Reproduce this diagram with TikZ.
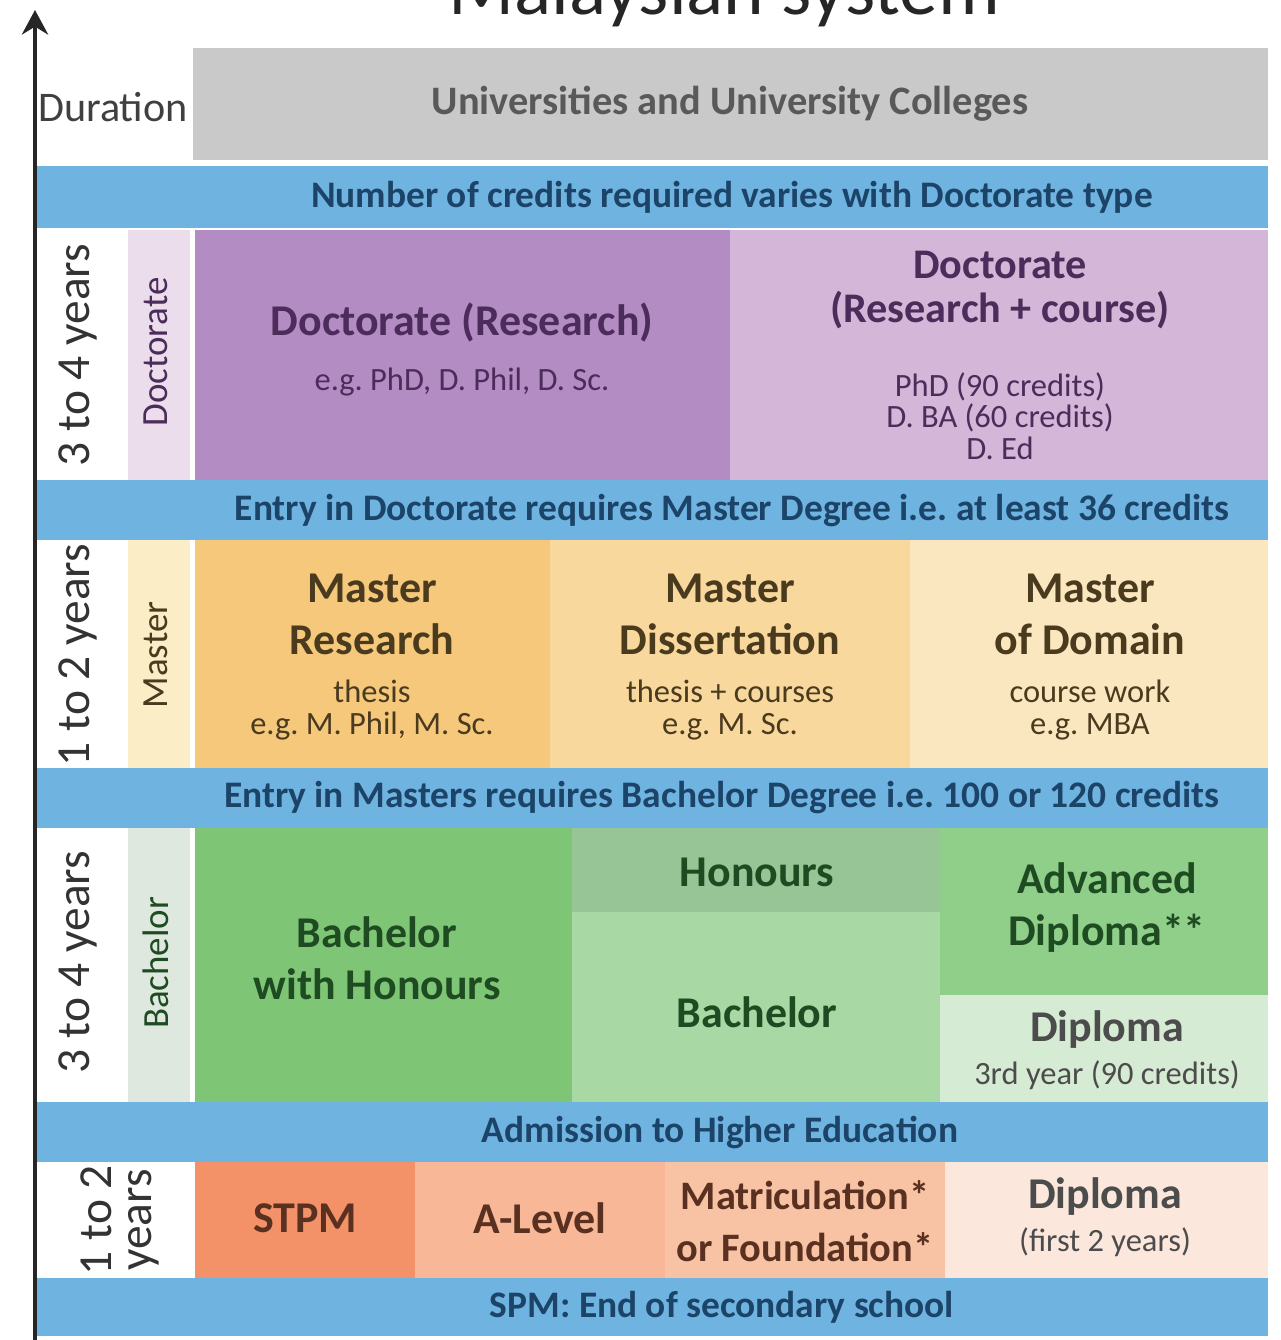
\documentclass[tikz,border=0pt]{standalone}
\usepackage{fontspec}
\setmainfont{Carlito}
\usetikzlibrary{arrows.meta}
\definecolor{bandblue}{HTML}{6FB3E0}
\definecolor{bandtext}{HTML}{1C4468}
\definecolor{univgray}{HTML}{C9C9C9}
\definecolor{docdark}{HTML}{B48CC4}
\definecolor{doclight}{HTML}{D4B6D8}
\definecolor{doclab}{HTML}{EBDDEC}
\definecolor{doctext}{HTML}{4B2C5A}
\definecolor{masdark}{HTML}{F5C87C}
\definecolor{masmid}{HTML}{F8D89C}
\definecolor{maslight}{HTML}{FBE7BF}
\definecolor{maslab}{HTML}{FBEDC6}
\definecolor{mastext}{HTML}{4A3A1E}
\definecolor{bacdark}{HTML}{7EC676}
\definecolor{bachon}{HTML}{98C595}
\definecolor{bacmid}{HTML}{A8D8A3}
\definecolor{bacadv}{HTML}{8FCF8A}
\definecolor{bacdip}{HTML}{D6EBD3}
\definecolor{baclab}{HTML}{DFE8DE}
\definecolor{bactext}{HTML}{1F4B22}
\definecolor{prestpm}{HTML}{F39169}
\definecolor{prealev}{HTML}{F8B898}
\definecolor{premat}{HTML}{F8C3A5}
\definecolor{predip}{HTML}{FCE7DD}
\definecolor{pretext}{HTML}{5A3020}

\begin{document}
\frenchspacing
\begin{tikzpicture}[x=0.02cm,y=-0.02cm,
  band/.style={font=\bfseries\fontsize{21.3}{22}\selectfont,text=bandtext},
  title/.style={font=\bfseries\fontsize{25}{29.6}\selectfont,align=center},
  note/.style={font=\fontsize{18.5}{18.5}\selectfont,align=center},
  years/.style={rotate=90,font=\fontsize{27}{22.8}\selectfont,text=black!80,align=center},
  level/.style={rotate=90,font=\fontsize{21}{22}\selectfont}]
\useasboundingbox (0,0) rectangle (1281,1340);
\clip (0,0) rectangle (1281,1340);

% heading and axis
\node[font=\fontsize{44}{44}\selectfont,text=black!85,anchor=base] (heading) at (724,14) {Malaysian system};
\coordinate (axisfoot) at (35,1340);
\coordinate (axistop) at (35,10);
\draw[line width=1.8pt,black!85,-{Stealth[length=14pt,width=15pt]}] (axisfoot) -- (axistop);
\node[font=\fontsize{24}{24}\selectfont,text=black!75] (duration) at (113,107) {Duration};
\fill[univgray] (193,48) rectangle (1268,160);
\node[font=\bfseries\fontsize{23}{24}\selectfont,text=black!65] (univ) at (730,104) {Universities and University Colleges};

% blue bands
\fill[bandblue] (37,166) rectangle (1268,228);
\fill[bandblue] (37,480) rectangle (1268,540);
\fill[bandblue] (37,768) rectangle (1268,828);
\fill[bandblue] (37,1102) rectangle (1268,1162);
\fill[bandblue] (37,1278) rectangle (1268,1336);
\node[band] (credits) at (732,197) {Number of credits required varies with Doctorate type};
\node[band] (entrydoc) at (732,511) {Entry in Doctorate requires Master Degree i.e. at least 36 credits};
\node[band] (entrymas) at (722,798) {Entry in Masters requires Bachelor Degree i.e. 100 or 120 credits};
\node[band] (admission) at (720,1132) {Admission to Higher Education};
\node[band] (spm) at (722,1307) {SPM: End of secondary school};

% doctorate
\fill[doclab] (128,230) rectangle (190,480);
\fill[docdark] (195,230) rectangle (730,480);
\fill[doclight] (730,230) rectangle (1268,480);
\node[years] (docyears) at (78,355) {3 to 4 years};
\node[level,text=doctext] (doclevel) at (156,352) {Doctorate};
\node[title,text=doctext] (docres) at (462,323) {Doctorate (Research)};
\node[note,text=doctext] (docresex) at (462,382) {e.g. PhD, D. Phil, D. Sc.};
\node[title,font=\bfseries\fontsize{24}{24.5}\selectfont,text=doctext] (doccourse) at (1000,290) {Doctorate\\(Research + course)};
\node[note,text=doctext,font=\fontsize{18.5}{18}\selectfont] (doccourseex) at (1000,416) {PhD (90 credits)\\D. BA (60 credits)\\D. Ed};

% master
\fill[maslab] (128,540) rectangle (190,768);
\fill[masdark] (195,540) rectangle (550,768);
\fill[masmid] (550,540) rectangle (910,768);
\fill[maslight] (910,540) rectangle (1268,768);
\node[years] (masyears) at (78,655) {1 to 2 years};
\node[level,text=mastext] (maslevel) at (156,655) {Master};
\node[title,text=mastext] (masres) at (372,614) {Master\\Research};
\node[note,text=mastext] (masresex) at (372,710) {thesis\\e.g. M. Phil, M. Sc.};
\node[title,text=mastext] (masdiss) at (730,614) {Master\\Dissertation};
\node[note,text=mastext] (masdissex) at (730,710) {thesis + courses\\e.g. M. Sc.};
\node[title,text=mastext] (masdom) at (1090,614) {Master\\of Domain};
\node[note,text=mastext] (masdomex) at (1090,710) {course work\\e.g. MBA};

% bachelor
\fill[baclab] (128,828) rectangle (190,1102);
\fill[bacdark] (195,828) rectangle (572,1102);
\fill[bachon] (572,828) rectangle (940,912);
\fill[bacmid] (572,912) rectangle (940,1102);
\fill[bacadv] (940,828) rectangle (1268,995);
\fill[bacdip] (940,995) rectangle (1268,1102);
\node[years] (bacyears) at (78,962) {3 to 4 years};
\node[level,text=bactext] (baclevel) at (156,963) {Bachelor};
\node[title,text=bactext] (bachons) at (377,958) {Bachelor\\with Honours};
\node[title,text=bactext] (honours) at (757,872) {Honours};
\node[title,text=bactext] (bachelor) at (757,1012) {Bachelor};
\node[title,text=bactext] (advdip) at (1107,908) {Advanced\\Diploma**};
\node[title,text=black!70] (dipthird) at (1107,1030) {Diploma};
\node[note,text=black!70] (dipthirdex) at (1107,1075) {3rd year (90 credits)};

% pre-university
\fill[prestpm] (195,1162) rectangle (415,1278);
\fill[prealev] (415,1162) rectangle (665,1278);
\fill[premat] (665,1162) rectangle (945,1278);
\fill[predip] (945,1162) rectangle (1268,1278);
\node[years] (preyears) at (120,1220) {1 to 2\\years};
\node[title,text=pretext] (stpm) at (305,1218) {STPM};
\node[title,text=pretext] (alevel) at (540,1218) {A-Level};
\node[title,font=\bfseries\fontsize{23}{29.6}\selectfont,text=pretext] (matric) at (805,1221) {Matriculation*\\or Foundation*};
\node[title,text=black!70] (dipfirst) at (1105,1197) {Diploma};
\node[note,text=black!70] (dipfirstex) at (1105,1242) {(first 2 years)};
\end{tikzpicture}
\end{document}
